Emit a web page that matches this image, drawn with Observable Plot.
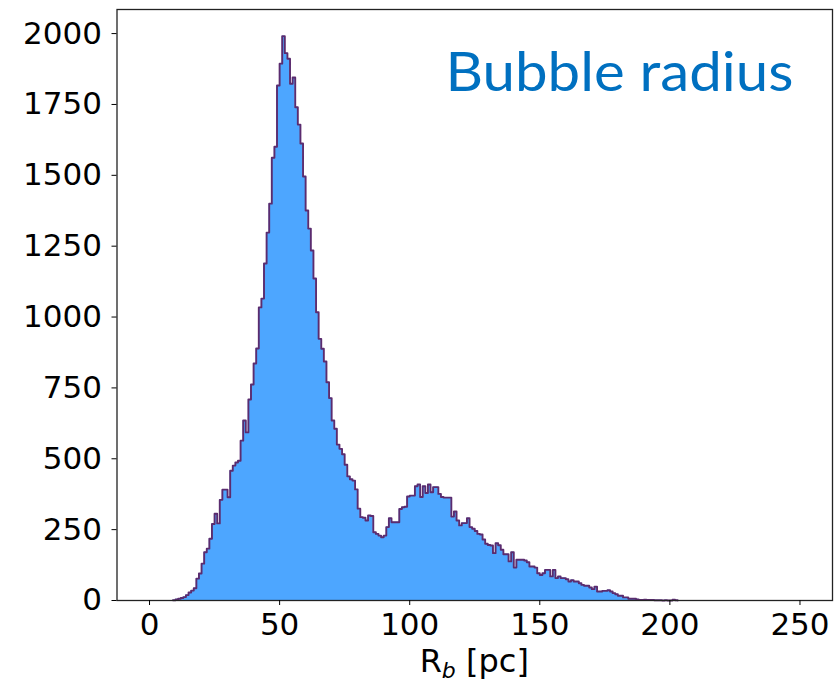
<!DOCTYPE html>
<html>
<head>
<meta charset="utf-8">
<script src="https://cdn.jsdelivr.net/npm/d3@7"></script>
<script src="https://cdn.jsdelivr.net/npm/@observablehq/plot@0.6"></script>
<style>
  body { margin: 0; background: #fff; }
</style>
</head>
<body>
<div id="chart"></div>
<script>
// Histogram of bubble radii, 1 pc bins over [0, 250] pc
const title = "Bubble radius";
const rangeStart = 0;
const rangeEnd = 250;
const binWidth = 1;
const firstBin = 9; // counts below start at the bin [9, 10)
const counts = [
  1, 4, 6, 9, 12, 19, 28, 35, 43, 77,            // 9-18
  95, 130, 170, 183, 218, 270, 306, 272, 355, 391, // 19-28
  391, 364, 458, 476, 487, 493, 564, 635, 593, 709, // 29-38
  762, 836, 889, 1034, 1065, 1189, 1298, 1400, 1562, 1601, // 39-48
  1817, 1894, 1991, 1931, 1911, 1823, 1845, 1740, 1679, 1612, // 49-58
  1496, 1376, 1312, 1235, 1136, 1017, 923, 888, 843, 770, // 59-68
  714, 635, 606, 550, 535, 516, 479, 438, 428, 423, // 69-78
  392, 324, 294, 292, 282, 300, 298, 241, 235, 229, // 79-88
  223, 229, 259, 290, 276, 276, 276, 323, 329, 331, // 89-98
  367, 370, 370, 403, 409, 365, 403, 379, 409, 382, // 99-108
  400, 400, 376, 365, 363, 363, 363, 296, 314, 282, // 109-118
  265, 273, 273, 290, 259, 253, 245, 235, 233, 215, // 119-128
  200, 196, 194, 167, 202, 195, 179, 163, 163, 138, // 129-138
  170, 116, 144, 144, 144, 141, 135, 120, 120, 116, // 139-148
  96, 90, 96, 108, 108, 85, 108, 79, 85, 79,       // 149-158
  79, 75, 67, 72, 67, 67, 61, 55, 52, 52,          // 159-168
  46, 40, 49, 32, 32, 34, 34, 36, 32, 26,          // 169-178
  22, 17, 17, 11, 11, 6, 6, 6, 4, 2,               // 179-188
  2, 3, 2, 2, 2, 1, 1, 1, 0, 1,                    // 189-198
  0, 0, 3, 1                                       // 199-202
];
const xTicks = [0, 50, 100, 150, 200, 250];
const yTicks = [0, 250, 500, 750, 1000, 1250, 1500, 1750, 2000];

// bin left edges with their counts; the last edge closes the step
const bins = d3.range(rangeStart, rangeEnd + binWidth, binWidth).map((x) => ({
  x,
  count: counts[x - firstBin] ?? 0
}));
// outline only over the populated part of the range
const lastEdge = firstBin + counts.length * binWidth;
const outline = bins.filter((d) => d.x >= firstBin && d.x <= lastEdge);

const chart = Plot.plot({
  width: 836,
  height: 685,
  marginLeft: 116.5,
  marginRight: 4,
  marginTop: 9,
  marginBottom: 85,
  x: { domain: [-12.5, 262.5] },
  y: { domain: [0, 2085] },
  style: { fontFamily: "DejaVu Sans", fontSize: "31px", color: "black", background: "white" },
  marks: [
    Plot.areaY(bins, { x: "x", y: "count", curve: "step-after", fill: "#4da6ff" }),
    Plot.lineY(outline, { x: "x", y: "count", curve: "step-after", stroke: "#5b2c6f", strokeWidth: 1.9 }),
    Plot.frame({ stroke: "#222", strokeWidth: 1.3 }),
    Plot.axisX({ ticks: xTicks, tickSize: 5, tickPadding: 7, label: null, fontSize: 31, tickFormat: (d) => String(d) }),
    Plot.axisY({ ticks: yTicks, tickSize: 5, tickPadding: 10, label: null, fontSize: 31, tickFormat: (d) => String(d) }),
    Plot.text([title], {
      frameAnchor: "top-right",
      dx: -39,
      dy: 81,
      lineAnchor: "bottom",
      textAnchor: "end",
      fontSize: 54,
      fontFamily: "Lato",
      fill: "#0070c0"
    })
  ]
});

const svg = d3.select(chart);
svg.selectAll('g[aria-label="text"] text')
  .attr("textLength", 348)
  .attr("lengthAdjust", "spacingAndGlyphs");

// x-axis title with italic subscript
const sx = chart.scale("x");
const label = svg.append("text")
  .attr("x", sx.apply(125))
  .attr("y", 672)
  .attr("text-anchor", "middle")
  .attr("font-family", "DejaVu Sans")
  .attr("font-size", 32)
  .attr("fill", "black");
label.append("tspan").text("R");
label.append("tspan").attr("font-style", "italic").attr("font-size", 22).attr("dy", 6).text("b");
label.append("tspan").attr("dy", -6).text(" [pc]");

document.getElementById("chart").append(chart);
</script>
</body>
</html>
